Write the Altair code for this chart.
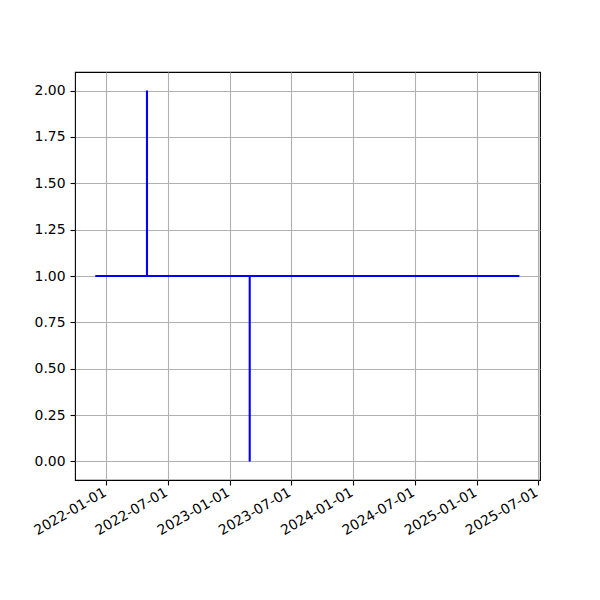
import altair as alt
import pandas as pd

# Key points of the series
dates = ["2021-11-29", "2022-05-01", "2022-05-01", "2022-05-01",
         "2023-03-01", "2023-03-01", "2023-03-01", "2025-05-07"]
values = [1, 1, 2, 1, 1, 0, 1, 1]

x_ticks = ["2022-01-01", "2022-07-01", "2023-01-01", "2023-07-01",
           "2024-01-01", "2024-07-01", "2025-01-01", "2025-07-01"]
y_ticks = [0, 0.25, 0.5, 0.75, 1.0, 1.25, 1.5, 1.75, 2.0]
x_domain = ["2021-09-30", "2025-07-07"]
y_domain = [-0.1, 2.1]

df = pd.DataFrame({"date": pd.to_datetime(dates), "value": values,
                   "idx": list(range(len(dates)))})

x_tick_vals = [alt.DateTime(year=int(d[:4]), month=int(d[5:7]), date=int(d[8:]))
               for d in x_ticks]
x_dom = [alt.DateTime(year=int(d[:4]), month=int(d[5:7]), date=int(d[8:]))
         for d in x_domain]

font = "DejaVu Sans"

chart = alt.Chart(df).mark_line(color="blue", strokeWidth=2.1, clip=True).encode(
    x=alt.X("date:T", scale=alt.Scale(domain=x_dom, nice=False),
            axis=alt.Axis(values=x_tick_vals, format="%Y-%m-%d", title=None,
                          labelAngle=-30, labelAlign="right", labelBaseline="top",
                          labelOffset=-5, labelPadding=0,
                          grid=True, gridColor="#b0b0b0", gridWidth=1.1,
                          domain=False, ticks=True, tickColor="black",
                          tickSize=5, tickWidth=1.1, labelFlush=False,
                          labelOverlap=False,
                          labelFont=font, labelFontSize=13.9, labelColor="black")),
    y=alt.Y("value:Q", scale=alt.Scale(domain=y_domain, nice=False, zero=False),
            axis=alt.Axis(values=y_ticks, format=".2f", title=None,
                          grid=True, gridColor="#b0b0b0", gridWidth=1.1,
                          domain=False, ticks=True, tickColor="black",
                          tickSize=5, tickWidth=1.1, labelPadding=5,
                          labelFlush=False, labelOverlap=False,
                          labelFont=font, labelFontSize=13.9, labelColor="black")),
    order="idx:Q",
).properties(
    width=465, height=408,
    background="white",
    autosize=alt.AutoSizeParams(type="none"),
    padding={"left": 67, "top": 64, "right": 50, "bottom": 110},
).configure_view(stroke="black", strokeWidth=1.1)

chart.save("out.html", embed_options={"renderer": "svg", "actions": False})
